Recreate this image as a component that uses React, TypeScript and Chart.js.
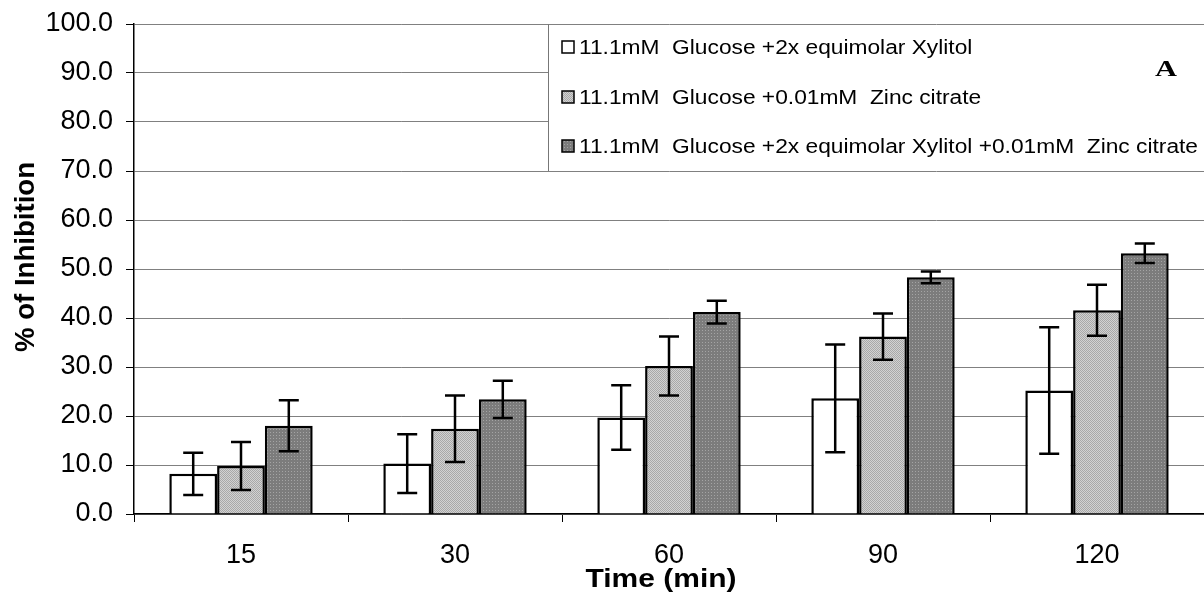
import React, { useEffect, useRef } from "react";
import { Chart, registerables } from "chart.js";

Chart.register(...registerables);

const categories = ["15", "30", "60", "90", "120"];
const seriesLabels = [
  "11.1mM  Glucose +2x equimolar Xylitol",
  "11.1mM  Glucose +0.01mM  Zinc citrate",
  "11.1mM  Glucose +2x equimolar Xylitol +0.01mM  Zinc citrate",
];
const xylitol = [8.2, 10.3, 19.7, 23.6, 25.2];
const xylitolErr = [4.3, 6.0, 6.6, 11.0, 12.9];
const zinc = [9.8, 17.4, 30.2, 36.2, 41.6];
const zincErr = [4.9, 6.8, 6.0, 4.7, 5.2];
const combo = [18.0, 23.4, 41.2, 48.3, 53.2];
const comboErr = [5.2, 3.8, 2.3, 1.2, 2.0];
const panelLetter = "A";
const yTitle = "% of Inhibition";
const xTitle = "Time (min)";

const SANS = "'Liberation Sans', Arial, sans-serif";

function makePattern(base: string, dot: string, step: number, diag: boolean): CanvasPattern | string {
  const c = document.createElement("canvas");
  c.width = step;
  c.height = step;
  const ctx = c.getContext("2d");
  if (!ctx) return base;
  ctx.fillStyle = base;
  ctx.fillRect(0, 0, step, step);
  ctx.fillStyle = dot;
  if (diag) {
    for (let i = 0; i < step; i++) ctx.fillRect(i, i, 1, 1);
  } else {
    ctx.fillRect(0, 0, 1, 1);
  }
  const p = ctx.createPattern(c, "repeat");
  return p || base;
}

function stretchedText(ctx: CanvasRenderingContext2D, text: string, x: number, y: number, targetWidth: number, align: "left" | "center") {
  const w = ctx.measureText(text).width;
  const sx = targetWidth / w;
  ctx.save();
  ctx.translate(x, y);
  ctx.scale(sx, 1);
  ctx.textAlign = align;
  ctx.fillText(text, 0, 0);
  ctx.restore();
}

export default function App() {
  const ref = useRef<HTMLCanvasElement | null>(null);
  useEffect(() => {
    if (!ref.current) return;
    const light = makePattern("#d2d2d2", "#a8a8a8", 2, true);
    const dark = makePattern("#7c7c7c", "#a4a4a4", 3, false);
    const fills = ["#ffffff", light, dark];
    const errs = [xylitolErr, zincErr, comboErr];

    const errorBars = {
      id: "errorBars",
      afterDatasetsDraw(chart: any) {
        const ctx = chart.ctx;
        const y = chart.scales.y;
        ctx.save();
        ctx.strokeStyle = "#000";
        ctx.lineWidth = 2.5;
        chart.data.datasets.forEach((ds: any, i: number) => {
          const meta = chart.getDatasetMeta(i);
          meta.data.forEach((bar: any, j: number) => {
            const v = ds.data[j];
            const e = errs[i][j];
            const yt = y.getPixelForValue(v + e);
            const yb = y.getPixelForValue(v - e);
            const x = bar.x;
            ctx.beginPath();
            ctx.moveTo(x, yt);
            ctx.lineTo(x, yb);
            ctx.moveTo(x - 10, yt);
            ctx.lineTo(x + 10, yt);
            ctx.moveTo(x - 10, yb);
            ctx.lineTo(x + 10, yb);
            ctx.stroke();
          });
        });
        ctx.restore();
      },
    };

    const legendBox = {
      id: "legendBox",
      afterDraw(chart: any) {
        const ctx = chart.ctx;
        const area = chart.chartArea;
        const y = chart.scales.y;
        const left = 548;
        const top = area.top;
        const bottom = y.getPixelForValue(70);
        ctx.save();
        ctx.fillStyle = "#fff";
        ctx.fillRect(left, top + 1, area.right - left, bottom - top - 1);
        ctx.strokeStyle = "#777";
        ctx.lineWidth = 1;
        ctx.beginPath();
        ctx.moveTo(left + 0.5, top);
        ctx.lineTo(left + 0.5, bottom);
        ctx.stroke();
        const rows = [47, 97, 146];
        ctx.font = "20px " + SANS;
        ctx.textBaseline = "middle";
        const longest = ctx.measureText(seriesLabels[2]).width;
        const sx = 619 / longest;
        chart.data.datasets.forEach((ds: any, i: number) => {
          const ry = rows[i];
          ctx.fillStyle = fills[i];
          ctx.fillRect(562, ry - 6, 12, 12);
          ctx.strokeStyle = "#000";
          ctx.lineWidth = 1.5;
          ctx.strokeRect(562, ry - 6, 12, 12);
          ctx.fillStyle = "#000";
          const w = ctx.measureText(ds.label).width;
          stretchedText(ctx, ds.label, 579, ry + 1, w * sx, "left");
        });
        ctx.font = "bold 23px 'Liberation Serif', 'Times New Roman', serif";
        stretchedText(ctx, panelLetter, 1166, 70, 22, "center");

        // axis titles
        ctx.font = "bold 25px " + SANS;
        ctx.fillStyle = "#000";
        stretchedText(ctx, xTitle, 661, 580, 151, "center");
        ctx.save();
        ctx.translate(26, 257);
        ctx.rotate(-Math.PI / 2);
        ctx.font = "bold 28px " + SANS;
        stretchedText(ctx, yTitle, 0, 0, 190, "center");
        ctx.restore();
        ctx.restore();
      },
    };

    const chart = new Chart(ref.current, {
      type: "bar",
      data: {
        labels: categories,
        datasets: [
          { label: seriesLabels[0], data: xylitol, backgroundColor: fills[0] as any, borderColor: "#000", borderWidth: 2.5 },
          { label: seriesLabels[1], data: zinc, backgroundColor: fills[1] as any, borderColor: "#000", borderWidth: 2.5 },
          { label: seriesLabels[2], data: combo, backgroundColor: fills[2] as any, borderColor: "#000", borderWidth: 2.5 },
        ],
      },
      options: {
        responsive: false,
        animation: false,
        layout: { padding: { top: 24, right: 0, left: 0, bottom: 0 } },
        datasets: { bar: { categoryPercentage: 0.67, barPercentage: 1.0 } },
        plugins: {
          legend: { display: false },
          tooltip: { enabled: false },
        },
        scales: {
          x: {
            afterFit: (s: any) => { s.height = 84; s.paddingLeft = 0; s.paddingRight = 0; },
            grid: { drawOnChartArea: false, drawTicks: true, tickLength: 8, color: "#000", offset: true },
            border: { color: "#000", width: 1.5 },
            ticks: { color: "#000", padding: 17, font: { family: SANS, size: 27 } },
            title: { display: false, text: xTitle },
          },
          y: {
            min: 0,
            max: 100,
            afterFit: (s: any) => { s.width = 134; s.paddingTop = 0; s.paddingBottom = 0; },
            grid: { color: "#808080", lineWidth: 1, tickColor: "#000", tickLength: 8 },
            border: { color: "#000", width: 1.5 },
            ticks: {
              stepSize: 10,
              color: "#000",
              padding: 13,
              font: { family: SANS, size: 27 },
              callback: (v: any) => Number(v).toFixed(1),
            },
            title: { display: false, text: yTitle },
          },
        },
      },
      plugins: [errorBars, legendBox],
    } as any);
    return () => chart.destroy();
  }, []);
  return (
    <div style={{ position: "absolute", left: 0, top: 0, width: 1204, height: 598, background: "#fff" }}>
      <canvas ref={ref} width={1204} height={598} style={{ display: "block" }} />
    </div>
  );
}
